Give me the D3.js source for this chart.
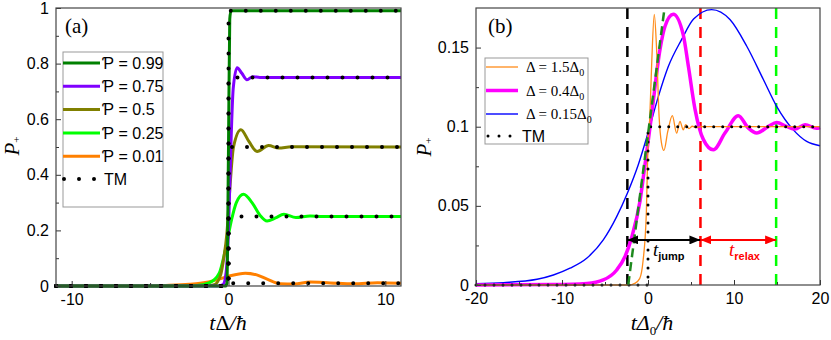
<!DOCTYPE html>
<html>
<head>
<meta charset="utf-8">
<script src="https://cdn.jsdelivr.net/npm/d3@7"></script>
<style>
  body { margin: 0; background: #fff; }
  .tick text { font-family: "Liberation Sans", Arial, sans-serif; font-size: 16px; fill: #000; }
</style>
</head>
<body>
<div class="chart-holder"></div>
<script>
// ---- panel (a) data ----
const a_xticks = [-10, 0, 10];
const a_xminor = [-5, 5];
const a_yticks = [0, 0.2, 0.4, 0.6, 0.8, 1];
const a_yminor = [0.1, 0.3, 0.5, 0.7, 0.9];
const a_names = ["Ƥ = 0.99", "Ƥ = 0.75", "Ƥ = 0.5", "Ƥ = 0.25", "Ƥ = 0.01"];
const a_tm_levels = [0.99, 0.75, 0.5, 0.25, 0.01];

const a_t99 = [-11, -0.2, -0.1, 0, 0.08, 0.16, 11];
const a_p99 = [0, 0, 0.01, 0.5, 0.96, 0.99, 0.99];
const a_t75 = [-11, -0.7, -0.35, -0.15, 0, 0.15, 0.3, 0.55, 0.85, 1.18, 1.55, 2.0, 11];
const a_p75 = [0, 0, 0.005, 0.05, 0.2, 0.5, 0.71, 0.785, 0.765, 0.742, 0.753, 0.75, 0.75];
const a_t50 = [-11, -1.5, -0.9, -0.5, -0.32, -0.1, 0.11, 0.32, 0.79, 1.3, 1.82, 2.56, 3.2, 4.0, 11];
const a_p50 = [0, 0, 0.005, 0.04, 0.094, 0.19, 0.37, 0.5, 0.562, 0.52, 0.484, 0.505, 0.496, 0.501, 0.5];
const a_t25 = [-11, -3, -2, -1.2, -0.6, -0.2, 0.2, 0.5, 0.96, 1.5, 2.0, 2.46, 3.0, 3.53, 4.3, 5.2, 6, 11];
const a_p25 = [0, 0, 0.002, 0.012, 0.045, 0.13, 0.24, 0.3, 0.33, 0.3, 0.255, 0.234, 0.245, 0.258, 0.246, 0.252, 0.25, 0.25];
const a_t01 = [-11, -6, -4, -2.5, -1.8, -0.75, 0, 1.07, 1.8, 2.46, 3.3, 4.2, 5.2, 6.5, 8, 9.5, 11];
const a_p01 = [0, 0, 0.002, 0.006, 0.01, 0.022, 0.035, 0.046, 0.04, 0.025, 0.008, 0.007, 0.014, 0.011, 0.008, 0.012, 0.01];

// ---- panel (b) data ----
const b_xticks = [-20, -10, 0, 10, 20];
const b_xminor = [-15, -5, 5, 15];
const b_yticks = [0, 0.05, 0.1, 0.15];
const b_yminor = [0.025, 0.075, 0.125];
const b_tm_level = 0.1;

const b_t15 = [-20, -2.2, -1.55, -0.97, -0.58, -0.19, 0, 0.2, 0.43, 0.73, 1.0, 1.29, 1.56, 1.85, 2.3, 2.83, 3.33, 3.72, 4.1, 4.38, 4.77, 5.15, 5.6, 6.2, 20];
const b_v15 = [0, 0, 0.001, 0.004, 0.015, 0.046, 0.089, 0.105, 0.14, 0.171, 0.149, 0.1065, 0.09, 0.085, 0.097, 0.107, 0.096, 0.1033, 0.098, 0.1013, 0.0988, 0.1003, 0.0995, 0.1, 0.1];
const b_t04 = [-20, -11, -7.1, -5.2, -3.64, -2.67, -1.9, -0.93, -0.35, 0, 0.43, 1.4, 1.98, 2.94, 4.1, 4.7, 5.47, 6.43, 7.6, 8.95, 10.5, 11.66, 12.64, 14, 14.96, 16.1, 17.09, 18.26, 19.6, 20];
const b_v04 = [0, 0.0003, 0.001, 0.0032, 0.0095, 0.018, 0.03, 0.053, 0.076, 0.09, 0.108, 0.149, 0.1635, 0.171, 0.158, 0.138, 0.111, 0.092, 0.0854, 0.096, 0.107, 0.0992, 0.096, 0.1002, 0.1027, 0.1002, 0.0985, 0.1013, 0.099, 0.0995];
const b_t015 = [-20, -16.8, -12.9, -11, -9.07, -7.13, -5.2, -3.64, -2.4, -1.13, 0, 1.2, 2.36, 3.9, 5.3, 7.4, 9.53, 11.47, 13.4, 14.96, 16.9, 18.45, 20];
const b_v015 = [0.0008, 0.0015, 0.0036, 0.0063, 0.0106, 0.0169, 0.0285, 0.0432, 0.058, 0.076, 0.096, 0.119, 0.138, 0.155, 0.168, 0.174, 0.1677, 0.151, 0.13, 0.1129, 0.098, 0.0907, 0.088];
const b_tan_t = [-2.3, 1.9];
const b_tan_v = [0, 0.174];
const b_vlines = [-2.4, 6.1, 14.9];
const b_arrow_v = 0.0285;
const b_jump = [-2.4, 6.1];
const b_relax = [6.1, 14.9];

const zip = (t, v) => t.map((d, i) => [d, v[i]]);

const svg = d3.select('.chart-holder').append('svg')
  .attr('width', 831)
  .attr('height', 340);

const defs = svg.append('defs');
[['ah_black', '#000'], ['ah_red', '#ff0000']].forEach(([id, c]) => {
  defs.append('marker')
    .attr('id', id)
    .attr('markerUnits', 'userSpaceOnUse')
    .attr('markerWidth', 11).attr('markerHeight', 9)
    .attr('refX', 11).attr('refY', 4.5)
    .attr('orient', 'auto-start-reverse')
    .append('path').attr('d', 'M0,0 L11,4.5 L0,9 Z').attr('fill', c);
});

// scales
const ax = d3.scaleLinear().domain([-11, 11]).range([56, 401]);
const ay = d3.scaleLinear().domain([0, 1]).range([286, 8]);
const bx = d3.scaleLinear().domain([-20, 20]).range([476, 820]);
const by = d3.scaleLinear().domain([0, 0.175]).range([285, 8]);

function drawAxes(x, y, xt, xm, yt, ym) {
  const g = svg.append('g');
  const x0 = x.range()[0], y0 = y.range()[0];
  g.append('g').attr('transform', 'translate(0,' + y0 + ')')
    .call(d3.axisBottom(x).tickValues(xt).tickSizeInner(-5).tickSizeOuter(0).tickPadding(8).tickFormat(d => String(d)));
  g.append('g').attr('transform', 'translate(0,' + y0 + ')')
    .call(d3.axisBottom(x).tickValues(xm).tickSizeInner(-3).tickSizeOuter(0).tickFormat(''));
  g.append('g').attr('transform', 'translate(' + x0 + ',0)')
    .call(d3.axisLeft(y).tickValues(yt).tickSizeInner(-5).tickSizeOuter(0).tickPadding(7).tickFormat(d => String(d)));
  g.append('g').attr('transform', 'translate(' + x0 + ',0)')
    .call(d3.axisLeft(y).tickValues(ym).tickSizeInner(-3).tickSizeOuter(0).tickFormat(''));
  g.selectAll('.domain').remove();
  g.selectAll('.tick line').attr('stroke', '#333');
  svg.append('rect')
    .attr('x', x.range()[0]).attr('y', y.range()[1])
    .attr('width', x.range()[1] - x.range()[0])
    .attr('height', y.range()[0] - y.range()[1])
    .attr('fill', 'none').attr('stroke', '#444').attr('stroke-width', 1.2);
}

function curve(x, y, pts, color, w) {
  const line = d3.line().x(d => x(d[0])).y(d => y(d[1])).curve(d3.curveMonotoneX);
  return svg.append('path').datum(pts)
    .attr('fill', 'none').attr('stroke', color).attr('stroke-width', w)
    .attr('stroke-linejoin', 'round')
    .attr('d', line);
}

// ================= panel (a) =================
const a_series = [zip(a_t99, a_p99), zip(a_t75, a_p75), zip(a_t50, a_p50), zip(a_t25, a_p25), zip(a_t01, a_p01)];
const a_colors = ['#008000', '#8000ff', '#808000', '#00ff00', '#ff8000'];

// draw in reverse so 0.99 sits on top
[4, 3, 2, 1, 0].forEach(i => curve(ax, ay, a_series[i], a_colors[i], 3));

const a_tmline = d3.line().x(d => ax(d[0])).y(d => ay(d[1]));
a_tm_levels.forEach(L => {
  svg.append('path')
    .datum([[-11, 0], [0, 0], [0, L], [11, L]])
    .attr('fill', 'none').attr('stroke', '#000').attr('stroke-width', 4)
    .attr('stroke-dasharray', '0,15').attr('stroke-linecap', 'round')
    .attr('d', a_tmline);
});

drawAxes(ax, ay, a_xticks, a_xminor, a_yticks, a_yminor);

// legend (a)
const a_leg = svg.append('g');
a_leg.append('rect').attr('x', 63).attr('y', 52).attr('width', 100).attr('height', 155)
  .attr('fill', '#fff').attr('stroke', '#999').attr('stroke-width', 1);
a_names.forEach((n, i) => {
  const yy = 63 + i * 23.3;
  a_leg.append('line').attr('x1', 63).attr('x2', 100).attr('y1', yy).attr('y2', yy)
    .attr('stroke', a_colors[i]).attr('stroke-width', 3);
  a_leg.append('text').attr('x', 102).attr('y', yy).attr('dy', '0.35em')
    .style('font-family', 'Liberation Sans, Arial, sans-serif').style('font-size', '16px')
    .text(n);
});
a_leg.append('line').attr('x1', 64).attr('x2', 98).attr('y1', 179).attr('y2', 179)
  .attr('stroke', '#000').attr('stroke-width', 4).attr('stroke-dasharray', '0,15').attr('stroke-linecap', 'round');
a_leg.append('text').attr('x', 104).attr('y', 179).attr('dy', '0.35em')
  .style('font-family', 'Liberation Sans, Arial, sans-serif').style('font-size', '16px')
  .text('TM');

svg.append('text').attr('x', 65).attr('y', 33)
  .style('font-family', 'Liberation Serif, serif').style('font-size', '21px')
  .text('(a)');

// axis titles (a)
const a_yt = svg.append('text').attr('transform', 'translate(19,146) rotate(-90)')
  .attr('text-anchor', 'middle')
  .style('font-family', 'Liberation Serif, serif').style('font-size', '21px');
a_yt.append('tspan').style('font-style', 'italic').text('P');
a_yt.append('tspan').style('font-size', '11px').attr('dy', 1).text('+');

const a_xt = svg.append('text').attr('x', 228).attr('y', 330).attr('text-anchor', 'middle')
  .style('font-family', 'Liberation Serif, serif').style('font-size', '22px');
a_xt.append('tspan').style('font-style', 'italic').text('t');
a_xt.append('tspan').text('Δ');
a_xt.append('tspan').style('font-style', 'italic').text('/ħ');

// ================= panel (b) =================
// vertical dashed markers
const b_vcolors = ['#000', '#ff0000', '#00ff00'];
b_vlines.forEach((v, i) => {
  svg.append('line')
    .attr('x1', bx(v)).attr('x2', bx(v)).attr('y1', by(0)).attr('y2', by(0.175))
    .attr('stroke', b_vcolors[i]).attr('stroke-width', 2.5).attr('stroke-dasharray', '11,8');
});

curve(bx, by, zip(b_t015, b_v015), '#0000ff', 1.4);
curve(bx, by, zip(b_t04, b_v04), '#ff00ff', 3.5);
curve(bx, by, zip(b_t15, b_v15), '#ff8c1a', 1.3);

// TM
svg.append('path')
  .datum([[-20, 0], [0, 0], [0, b_tm_level], [20, b_tm_level]])
  .attr('fill', 'none').attr('stroke', '#000').attr('stroke-width', 3)
  .attr('stroke-dasharray', '0,9').attr('stroke-linecap', 'round')
  .attr('d', d3.line().x(d => bx(d[0])).y(d => by(d[1])));

// tangent
svg.append('line')
  .attr('x1', bx(b_tan_t[0])).attr('y1', by(b_tan_v[0]))
  .attr('x2', bx(b_tan_t[1])).attr('y2', by(b_tan_v[1]))
  .attr('stroke', '#1e8a1e').attr('stroke-width', 2.5).attr('stroke-dasharray', '9,5');

// arrows
svg.append('line')
  .attr('x1', bx(b_jump[0])).attr('x2', bx(b_jump[1])).attr('y1', by(b_arrow_v)).attr('y2', by(b_arrow_v))
  .attr('stroke', '#000').attr('stroke-width', 2)
  .attr('marker-start', 'url(#ah_black)').attr('marker-end', 'url(#ah_black)');
svg.append('line')
  .attr('x1', bx(b_relax[0])).attr('x2', bx(b_relax[1])).attr('y1', by(b_arrow_v)).attr('y2', by(b_arrow_v))
  .attr('stroke', '#ff0000').attr('stroke-width', 2)
  .attr('marker-start', 'url(#ah_red)').attr('marker-end', 'url(#ah_red)');

const tj = svg.append('text').attr('x', 653).attr('y', 256)
  .style('font-family', 'Liberation Serif, serif').style('font-size', '19px');
tj.append('tspan').style('font-style', 'italic').text('t');
tj.append('tspan').attr('dy', 4).style('font-family', 'Liberation Sans, Arial, sans-serif')
  .style('font-size', '11px').style('font-weight', 'bold').text('jump');
const tr = svg.append('text').attr('x', 729).attr('y', 256).attr('fill', '#ff0000')
  .style('font-family', 'Liberation Serif, serif').style('font-size', '19px');
tr.append('tspan').style('font-style', 'italic').text('t');
tr.append('tspan').attr('dy', 4).style('font-family', 'Liberation Sans, Arial, sans-serif')
  .style('font-size', '11px').style('font-weight', 'bold').text('relax');

drawAxes(bx, by, b_xticks, b_xminor, b_yticks, b_yminor);

// legend (b)
const b_leg = svg.append('g');
b_leg.append('rect').attr('x', 485).attr('y', 58).attr('width', 103).attr('height', 86)
  .attr('fill', '#fff').attr('stroke', '#999').attr('stroke-width', 1);
const b_names = [['Δ = 1.5Δ', '0'], ['Δ = 0.4Δ', '0'], ['Δ = 0.15Δ', '0']];
const b_colors = ['#ff8c1a', '#ff00ff', '#0000ff'];
const b_widths = [1.3, 3.5, 1.4];
b_names.forEach((n, i) => {
  const yy = 67 + i * 23.5;
  b_leg.append('line').attr('x1', 486).attr('x2', 518).attr('y1', yy).attr('y2', yy)
    .attr('stroke', b_colors[i]).attr('stroke-width', b_widths[i]);
  const t = b_leg.append('text').attr('x', 526).attr('y', yy).attr('dy', '0.35em')
    .style('font-family', 'Liberation Serif, serif').style('font-size', '15px');
  t.append('tspan').text(n[0]);
  t.append('tspan').attr('dy', 4).style('font-size', '10px').text(n[1]);
});
b_leg.append('line').attr('x1', 488).attr('x2', 512).attr('y1', 136).attr('y2', 136)
  .attr('stroke', '#000').attr('stroke-width', 3).attr('stroke-dasharray', '0,11').attr('stroke-linecap', 'round');
b_leg.append('text').attr('x', 522).attr('y', 136).attr('dy', '0.35em')
  .style('font-family', 'Liberation Sans, Arial, sans-serif').style('font-size', '16px')
  .text('TM');

svg.append('text').attr('x', 488).attr('y', 33)
  .style('font-family', 'Liberation Serif, serif').style('font-size', '21px')
  .text('(b)');

const b_yt = svg.append('text').attr('transform', 'translate(431,147) rotate(-90)')
  .attr('text-anchor', 'middle')
  .style('font-family', 'Liberation Serif, serif').style('font-size', '21px');
b_yt.append('tspan').style('font-style', 'italic').text('P');
b_yt.append('tspan').style('font-size', '11px').attr('dy', 1).text('+');

const b_xt = svg.append('text').attr('x', 652).attr('y', 330).attr('text-anchor', 'middle')
  .style('font-family', 'Liberation Serif, serif').style('font-size', '22px').style('font-style', 'italic');
b_xt.append('tspan').text('tΔ');
b_xt.append('tspan').attr('dy', 5).style('font-size', '13px').style('font-style', 'normal').text('0');
b_xt.append('tspan').attr('dy', -5).text('/ħ');
</script>
</body>
</html>
